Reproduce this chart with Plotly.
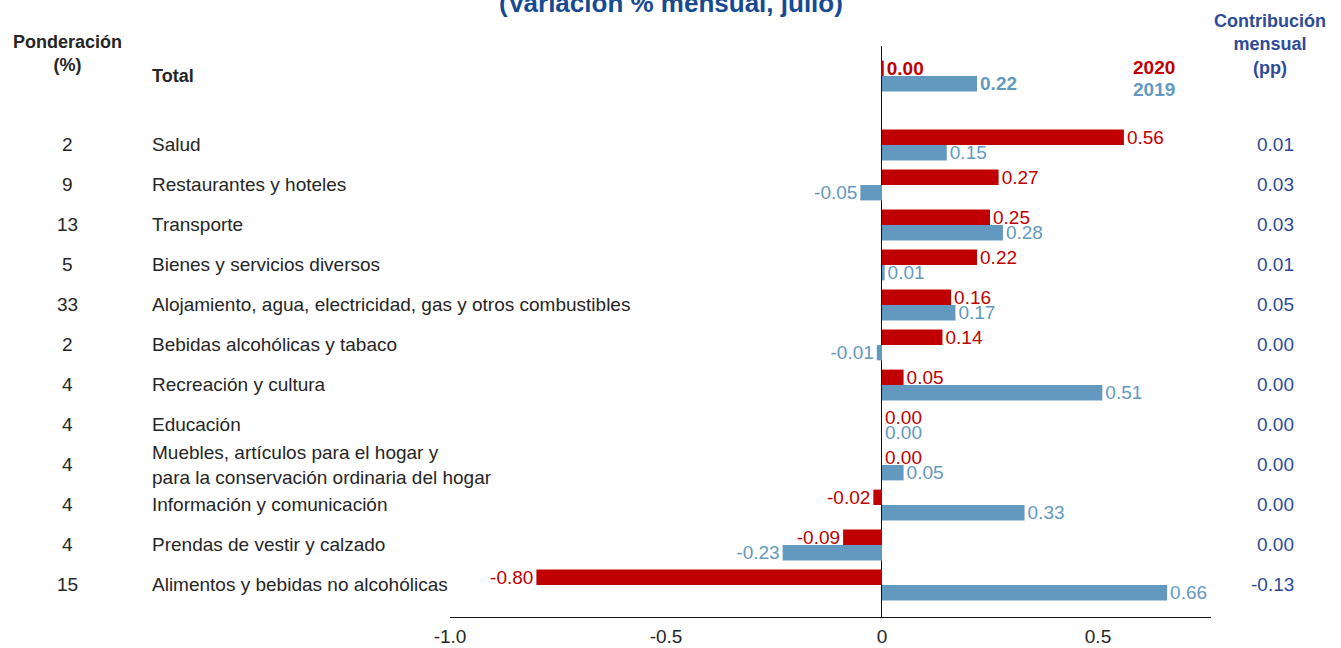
import plotly.graph_objects as go

# ---------------- data ----------------
categories = [
    "Salud",
    "Restaurantes y hoteles",
    "Transporte",
    "Bienes y servicios diversos",
    "Alojamiento, agua, electricidad, gas y otros combustibles",
    "Bebidas alcohólicas y tabaco",
    "Recreación y cultura",
    "Educación",
    "Muebles, artículos para el hogar y<br>para la conservación ordinaria del hogar",
    "Información y comunicación",
    "Prendas de vestir y calzado",
    "Alimentos y bebidas no alcohólicas",
]
var_2020 = [0.56, 0.27, 0.25, 0.22, 0.16, 0.14, 0.05, 0.00, 0.00, -0.02, -0.09, -0.80]
var_2019 = [0.15, -0.05, 0.28, 0.006, 0.17, -0.012, 0.51, 0.00, 0.05, 0.33, -0.23, 0.66]
total_2020 = 0.004
total_2019 = 0.22
ponderacion = [2, 9, 13, 5, 33, 2, 4, 4, 4, 4, 4, 15]
contribucion = ["0.01", "0.03", "0.03", "0.01", "0.05", "0.00", "0.00", "0.00",
                "0.00", "0.00", "0.00", "-0.13"]
x_ticks = [-1.0, -0.5, 0, 0.5]
x_ticktext = ["-1.0", "-0.5", "0", "0.5"]

# ---------------- layout geometry ----------------
W, H = 1341, 648
L, R, T, B = 450, 130, 46, 31
PW, PH = W - L - R, H - T - B

RED = "#C00000"
BLUE = "#6399BF"
NAVY = "#2E4A9A"
TXT = "#262626"
FONT = "Liberation Sans, Arial, sans-serif"
FS = 19

def xp(px):
    return (px - L) / PW

def yp(py):
    return (H - B - py) / PH

total_pos = 0.0
cat_pos = [1.725 + i for i in range(len(categories))]
ypos = [total_pos] + cat_pos

v20 = [total_2020] + var_2020
v19 = [total_2019] + var_2019

def fmt(vals):
    out = []
    for i, v in enumerate(vals):
        s = f"{v:.2f}"
        if s == "-0.00":
            s = "0.00"
        out.append(f"<b>{s}</b>" if i == 0 else s)
    return out

fig = go.Figure()
fig.add_trace(go.Bar(
    y=ypos, x=v20, orientation="h", name="2020",
    marker=dict(color=RED, line=dict(width=0)),
    text=fmt(v20), texttemplate="%{text}", textposition="outside",
    textfont=dict(color=RED, size=FS, family=FONT),
    constraintext="none", cliponaxis=False, hoverinfo="skip",
))
fig.add_trace(go.Bar(
    y=ypos, x=v19, orientation="h", name="2019",
    marker=dict(color=BLUE, line=dict(width=0)),
    text=fmt(v19), texttemplate="%{text}", textposition="outside",
    textfont=dict(color=BLUE, size=FS, family=FONT),
    constraintext="none", cliponaxis=False, hoverinfo="skip",
))

ann = []
ann.append(dict(text="<b>(Variación % mensual, julio)</b>", x=xp(671), y=yp(3),
                xref="paper", yref="paper", xanchor="center", yanchor="middle",
                showarrow=False, font=dict(size=26, color="#164A93", family=FONT)))
ann.append(dict(text="<b>Ponderación<br>(%)</b>", x=xp(68), y=yp(54),
                xref="paper", yref="paper", xanchor="center", yanchor="middle",
                showarrow=False, font=dict(size=FS - 1, color=TXT, family=FONT)))
ann.append(dict(text="<b>Contribución<br>mensual<br>(pp)</b>", x=xp(1270), y=yp(44),
                xref="paper", yref="paper", xanchor="center", yanchor="middle",
                showarrow=False, font=dict(size=FS - 1, color=NAVY, family=FONT)))
ann.append(dict(text="<b>2020</b>", x=xp(1154), y=yp(67),
                xref="paper", yref="paper", xanchor="center", yanchor="middle",
                showarrow=False, font=dict(size=FS, color=RED, family=FONT)))
ann.append(dict(text="<b>2019</b>", x=xp(1154), y=yp(89),
                xref="paper", yref="paper", xanchor="center", yanchor="middle",
                showarrow=False, font=dict(size=FS, color=BLUE, family=FONT)))
ann.append(dict(text="<b>Total</b>", x=xp(150), y=total_pos,
                xref="paper", yref="y", xanchor="left", yanchor="middle",
                showarrow=False, font=dict(size=FS - 1, color=TXT, family=FONT)))

for c, p, w, ct in zip(categories, cat_pos, ponderacion, contribucion):
    ann.append(dict(text=c, x=xp(150), y=p - 0.01, xref="paper", yref="y",
                    xanchor="left", yanchor="middle", align="left", showarrow=False,
                    font=dict(size=FS, color=TXT, family=FONT)))
    ann.append(dict(text=str(w), x=xp(68), y=p - 0.01, xref="paper", yref="y",
                    xanchor="center", yanchor="middle", showarrow=False,
                    font=dict(size=FS, color=TXT, family=FONT)))
    ann.append(dict(text=ct, x=xp(1296), y=p - 0.01, xref="paper", yref="y",
                    xanchor="right", yanchor="middle", showarrow=False,
                    font=dict(size=FS, color=NAVY, family=FONT)))

fig.update_layout(
    width=W, height=H,
    margin=dict(l=L, r=R, t=T, b=B, pad=0, autoexpand=False),
    paper_bgcolor="white", plot_bgcolor="white",
    barmode="group", bargap=0.23, bargroupgap=0.0,
    showlegend=False,
    font=dict(family=FONT, size=FS, color=TXT),
    annotations=ann,
    xaxis=dict(range=[-1.0, 0.7616], tickvals=x_ticks, ticktext=x_ticktext,
               showgrid=False, zeroline=True, zerolinecolor="#111111", zerolinewidth=1,
               showline=True, linecolor="#111111", linewidth=1, ticks="",
               automargin=False, ticklabelstandoff=2,
               tickfont=dict(size=FS, color=TXT, family=FONT), fixedrange=True),
    yaxis=dict(range=[13.525, -0.75], showticklabels=False, showgrid=False,
               zeroline=False, showline=False, ticks="", fixedrange=True,
               automargin=False),
)

fig.write_html("out.html", config={"displayModeBar": False})
